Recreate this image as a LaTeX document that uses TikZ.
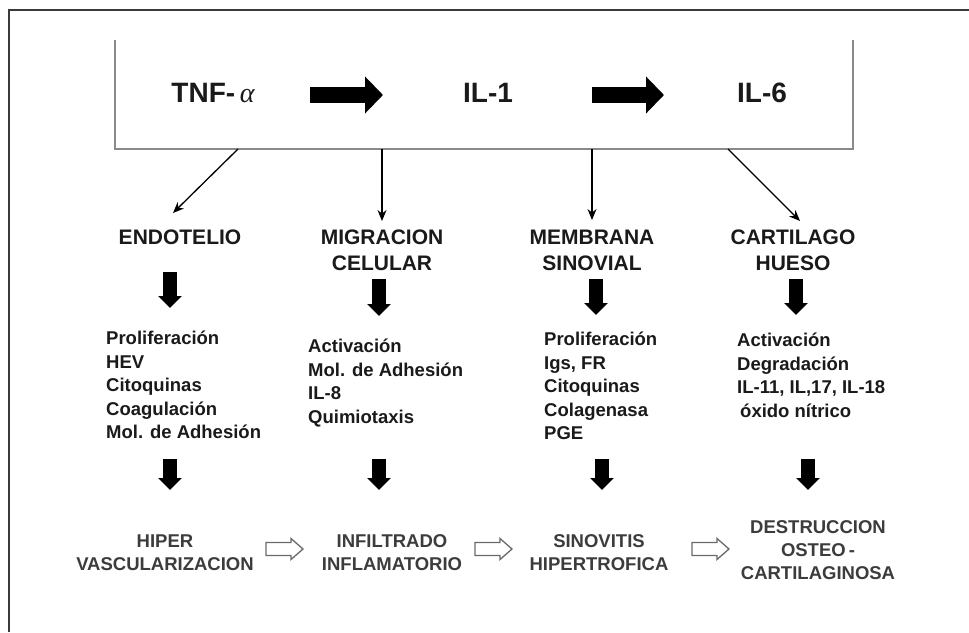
\documentclass[tikz,border=0pt]{standalone}
\usepackage{fontspec}
\setmainfont{Liberation Sans}
\newfontfamily\serifgreek{Liberation Serif}
\usetikzlibrary{arrows.meta}
\definecolor{ink}{HTML}{1A1A1A}
\definecolor{framegray}{HTML}{3A3A3A}
\definecolor{boxgray}{HTML}{8A8A8A}
\definecolor{hollowgray}{HTML}{6A6A6A}
\newcommand{\firststrut}[1]{\rule{0pt}{#1}}
\tikzset{
  frameline/.style={draw=framegray, line width=1.6pt},
  boxline/.style={draw=boxgray, line width=2pt},
  titletext/.style={font=\fontsize{28}{30}\selectfont\bfseries, text=ink, inner sep=0pt, anchor=base},
  headtext/.style={font=\fontsize{21}{26}\selectfont\bfseries, text=ink, inner sep=0pt, anchor=north, align=center},
  listtext/.style={font=\fontsize{18.5}{23.5}\selectfont\bfseries, text=ink, inner sep=0pt, anchor=north west, align=left},
  endtext/.style={font=\fontsize{18.5}{23}\selectfont\bfseries, text=ink!85, inner sep=0pt, anchor=north, align=center},
  thinarrow/.style={draw=black, line width=1.3pt, -{Stealth[length=11pt, width=9pt]}},
  bigright/.style={draw=black, line width=16pt, -{Triangle[length=18pt, width=36pt]}},
  bigdown/.style={draw=black, line width=14pt, -{Triangle[length=12pt, width=23pt]}},
  hollowright/.pic={\draw[draw=hollowgray, fill=white, line width=1.3pt, line join=miter]
     (0,-6.5) -- (25,-6.5) -- (25,-10.5) -- (37,0) -- (25,10.5) -- (25,6.5) -- (0,6.5) -- cycle;}
}
\begin{document}
\begin{tikzpicture}[x=1pt, y=-1pt]
\useasboundingbox (0,0) rectangle (969,632);
\fill[white] (0,0) rectangle (969,632);

% outer frame (left and top only)
\draw[frameline] (9,632) -- (9,10) -- (969,10);

% open-top box
\draw[boxline] (115,40) -- (115,149) -- (853,149) -- (853,40);

% title row
\node[titletext] (tnf) at (213,102.5) {TNF-\,{\serifgreek\itshape\mdseries α}};
\node[titletext] (il1) at (488,102.5) {IL-1};
\node[titletext] (il6) at (762,102.5) {IL-6};
\coordinate (r1s) at (310,95); \coordinate (r1e) at (383,95);
\coordinate (r2s) at (592,95); \coordinate (r2e) at (664,95);
\draw[bigright] (r1s) -- (r1e);
\draw[bigright] (r2s) -- (r2e);

% connectors from the box
\coordinate (b1) at (238,149); \coordinate (t1) at (173,213);
\coordinate (b2) at (382,149); \coordinate (t2) at (382,221);
\coordinate (b3) at (592,149); \coordinate (t3) at (592,220);
\coordinate (b4) at (728,149); \coordinate (t4) at (800,221);
\draw[thinarrow] (b1) -- (t1);
\draw[thinarrow] (b2) -- (t2);
\draw[thinarrow] (b3) -- (t3);
\draw[thinarrow] (b4) -- (t4);

% headings
\node[headtext] (endo) at (180,224.5) {\firststrut{20pt}ENDOTELIO};
\node[headtext] (migr) at (382,224.5) {\firststrut{20pt}MIGRACION\\CELULAR};
\node[headtext] (memb) at (592,224.5) {\firststrut{20pt}MEMBRANA\\SINOVIAL};
\node[headtext] (cart) at (793,224.5) {\firststrut{20pt}CARTILAGO\\HUESO};

% upper thick arrows
\coordinate (u1s) at (170,272); \coordinate (u1e) at (170,308);
\coordinate (u2s) at (379,279); \coordinate (u2e) at (379,316);
\coordinate (u3s) at (596,279); \coordinate (u3e) at (596,315);
\coordinate (u4s) at (796,279); \coordinate (u4e) at (796,315);
\draw[bigdown] (u1s) -- (u1e);
\draw[bigdown] (u2s) -- (u2e);
\draw[bigdown] (u3s) -- (u3e);
\draw[bigdown] (u4s) -- (u4e);

% lists
\node[listtext] (list1) at (106,326.5) {\firststrut{18pt}Proliferación\\HEV\\Citoquinas\\Coagulación\\Mol. de Adhesión};
\node[listtext] (list2) at (308,334.5) {\firststrut{18pt}Activación\\Mol. de Adhesión\\IL-8\\Quimiotaxis};
\node[listtext] (list3) at (544,327.5) {\firststrut{18pt}Proliferación\\Igs, FR\\Citoquinas\\Colagenasa\\PGE};
\node[listtext] (list4) at (737,328.5) {\firststrut{18pt}Activación\\Degradación\\IL-11, IL,17, IL-18\\\hspace{3pt}óxido nítrico};

% lower thick arrows
\coordinate (l1s) at (170,459); \coordinate (l1e) at (170,490);
\coordinate (l2s) at (379,459); \coordinate (l2e) at (379,490);
\coordinate (l3s) at (602,459); \coordinate (l3e) at (602,490);
\coordinate (l4s) at (808,459); \coordinate (l4e) at (808,490);
\draw[bigdown] (l1s) -- (l1e);
\draw[bigdown] (l2s) -- (l2e);
\draw[bigdown] (l3s) -- (l3e);
\draw[bigdown] (l4s) -- (l4e);

% outcomes
\node[endtext] (hiper) at (165,529.5) {\firststrut{18pt}HIPER\\VASCULARIZACION};
\node[endtext] (infil) at (392,529.5) {\firststrut{18pt}INFILTRADO\\INFLAMATORIO};
\node[endtext] (sino)  at (599,529.5) {\firststrut{18pt}SINOVITIS\\HIPERTROFICA};
\node[endtext] (destr) at (818,515.5) {\firststrut{18pt}DESTRUCCION\\OSTEO\,-\\CARTILAGINOSA};

% hollow arrows between outcomes
\coordinate (h1) at (266,549);
\coordinate (h2) at (475,549);
\coordinate (h3) at (692,549);
\pic at (h1) {hollowright};
\pic at (h2) {hollowright};
\pic at (h3) {hollowright};
\end{tikzpicture}
\end{document}
